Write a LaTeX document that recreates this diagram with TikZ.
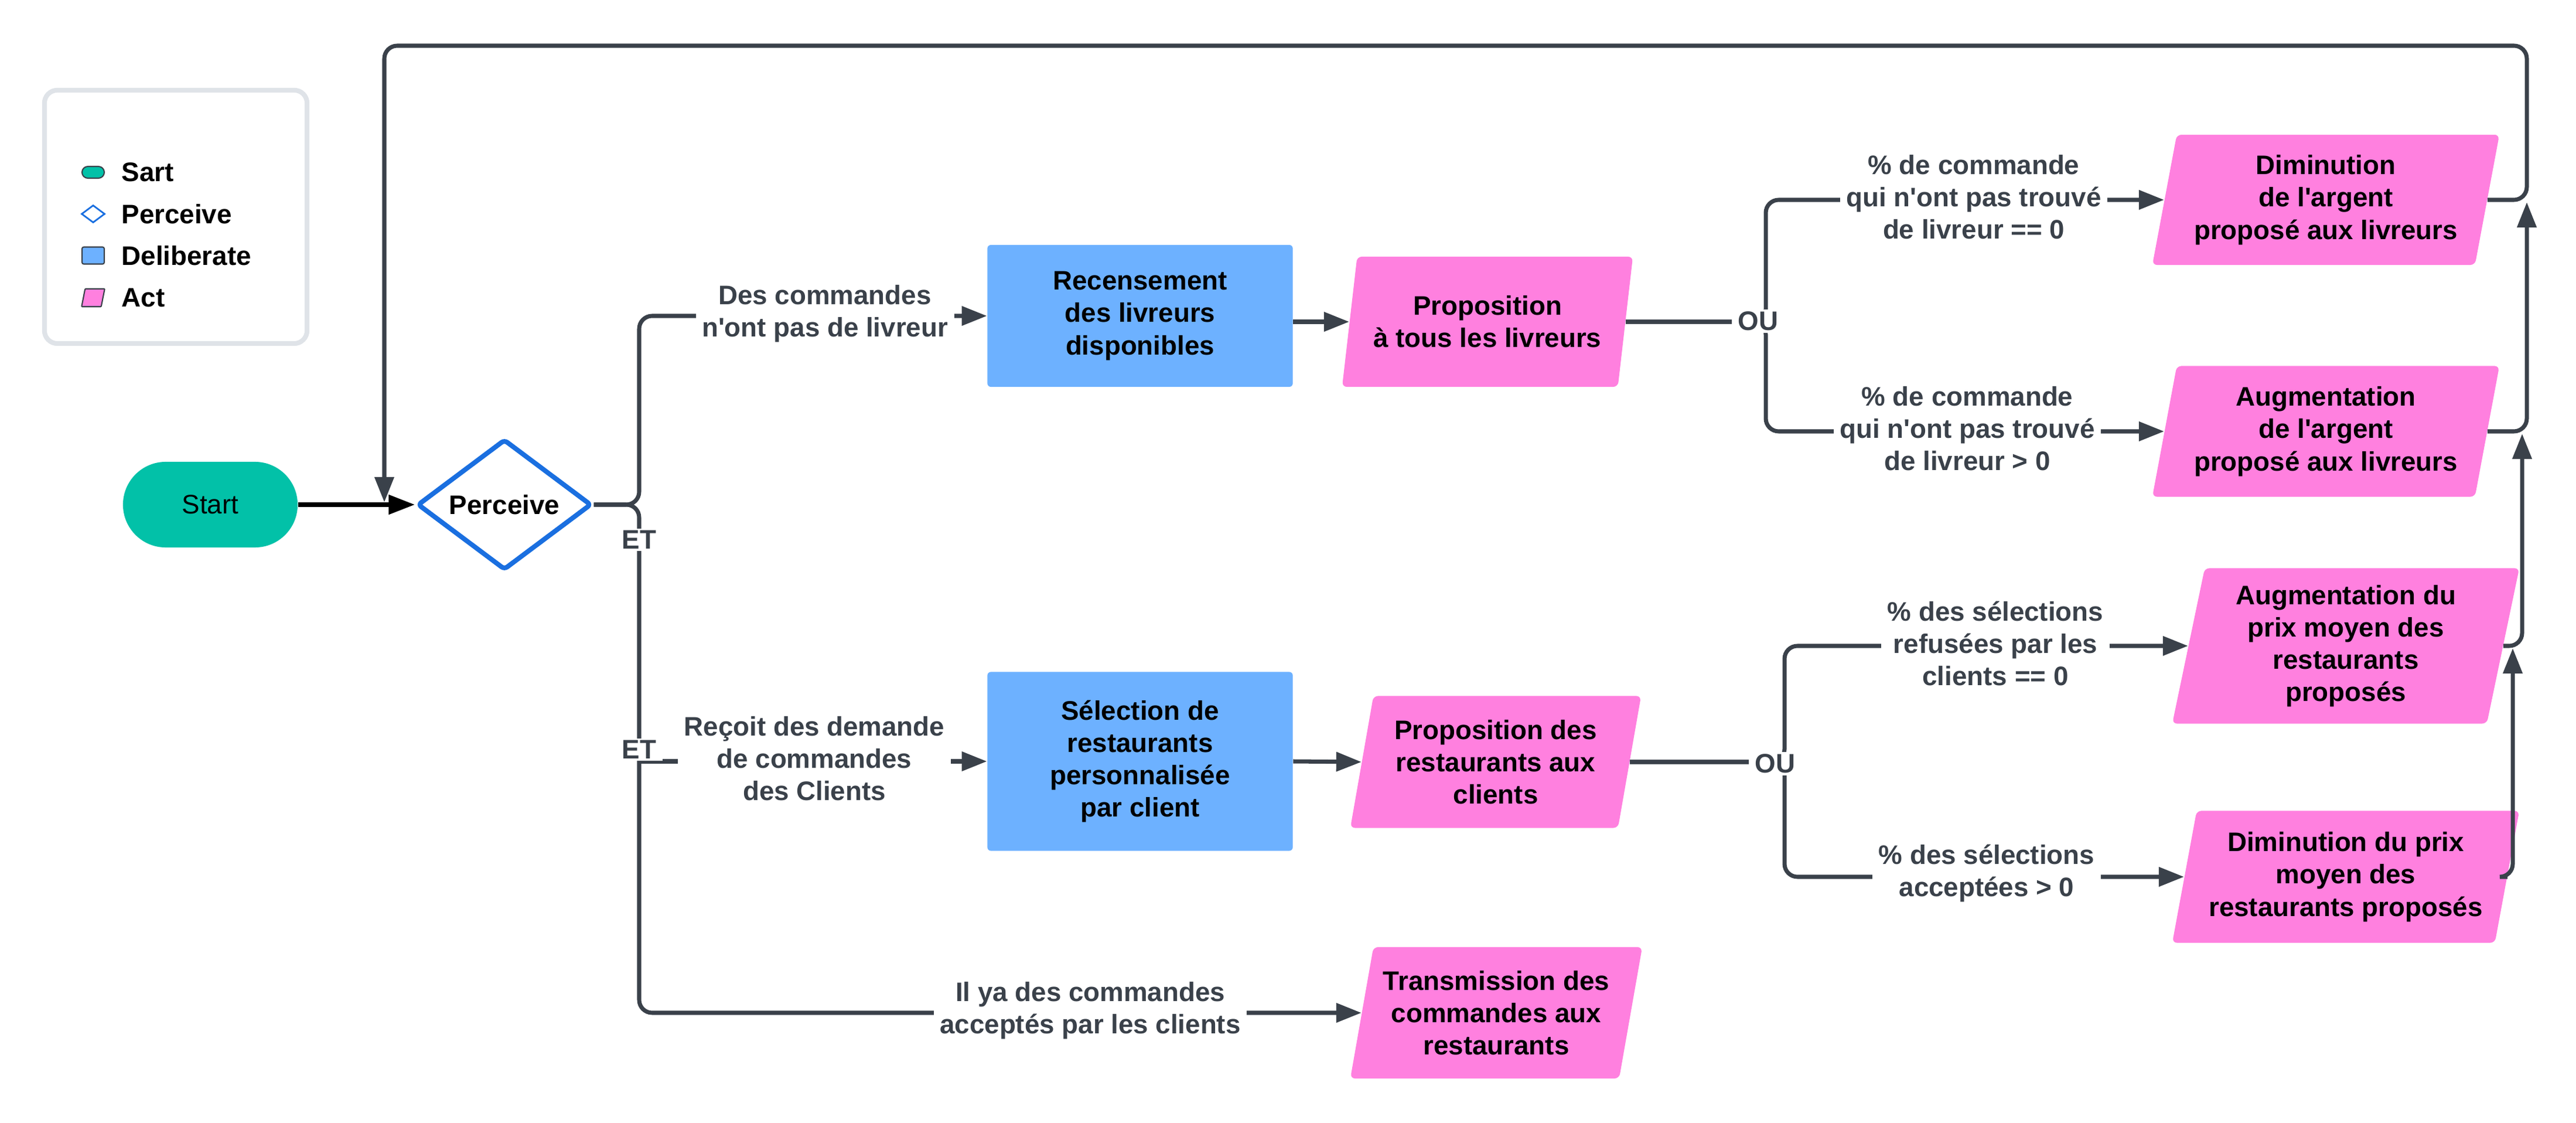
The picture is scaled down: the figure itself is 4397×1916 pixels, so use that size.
\documentclass[tikz,border=0pt]{standalone}
\usepackage{fontspec}
\setmainfont{Liberation Sans}
\usetikzlibrary{shapes.geometric,arrows.meta}
\definecolor{lineg}{HTML}{3A414A}
\definecolor{tealb}{HTML}{02C1A8}
\definecolor{blueb}{HTML}{6DB1FF}
\definecolor{pinkb}{HTML}{FF80DF}
\definecolor{pblue}{HTML}{1A6FE0}
\definecolor{legb}{HTML}{DFE3E8}
\newcommand{\apos}{\textquotesingle}
\begin{document}
\begin{tikzpicture}[x=0.01cm,y=-0.01cm,
  every node/.style={font=\fontsize{13pt}{15.7pt}\selectfont\bfseries, align=center},
  conn/.style={draw=lineg, line width=2pt, rounded corners=0.22cm, -{Triangle[length=0.43cm,width=0.32cm]}},
  lbl/.style={fill=white, text=lineg, inner xsep=3pt, inner ysep=1pt},
  delib/.style={rectangle, fill=blueb, rounded corners=0.06cm, minimum width=5.21cm, inner sep=2pt},
  actbox/.style={trapezium, trapezium left angle=76, trapezium right angle=104, trapezium stretches body=true, fill=pinkb, rounded corners=0.08cm, inner xsep=0pt, inner ysep=2pt},
  legtxt/.style={anchor=west, inner sep=0pt},
]
\useasboundingbox (0,0) rectangle (4397,1916);

% legend
\node[draw=legb, line width=2.3pt, rounded corners=0.22cm, minimum width=4.48cm, minimum height=4.32cm] (leg) at (300,370) {};
\node[fill=tealb, draw=lineg, line width=0.6pt, rounded corners=0.1cm, minimum width=0.38cm, minimum height=0.2cm, inner sep=0pt] (li1) at (159,294) {};
\node[diamond, draw=pblue, line width=0.8pt, minimum width=0.4cm, minimum height=0.3cm, aspect=1.3, inner sep=0pt] (li2) at (159,365) {};
\node[fill=blueb, draw=lineg, line width=0.6pt, rounded corners=0.03cm, minimum width=0.38cm, minimum height=0.29cm, inner sep=0pt] (li3) at (159,436) {};
\node[minimum width=0.38cm, minimum height=0.29cm, inner sep=0pt] (li4) at (159,508) {};
\draw[fill=pinkb, draw=lineg, line width=0.6pt, rounded corners=0.01cm] ([xshift=0.06cm]li4.north west) -- (li4.north east) -- ([xshift=-0.06cm]li4.south east) -- (li4.south west) -- cycle;
\node[legtxt] (lt1) at (207,294) {Sart};
\node[legtxt] (lt2) at (207,365) {Perceive};
\node[legtxt] (lt3) at (207,436) {Deliberate};
\node[legtxt] (lt4) at (207,508) {Act};

% main nodes
\node[fill=tealb, rounded corners=0.73cm, minimum width=2.98cm, minimum height=1.46cm, font=\fontsize{13pt}{15.7pt}\selectfont] (St) at (359,861) {Start};
\node[diamond, draw=pblue, line width=2.3pt, fill=white, minimum width=2.97cm, minimum height=2.23cm, inner sep=0pt, rounded corners=0.06cm] (Pc) at (861,861) {Perceive};

\node[delib, minimum height=2.42cm] (R) at (1946,539) {Recensement\\des livreurs\\disponibles};
\node[delib, minimum height=3.05cm] (S) at (1946,1299) {Sélection de\\restaurants\\personnalisée\\par client};

\node[actbox, minimum width=4.96cm, minimum height=2.22cm] (P1) at (2539,549) {Proposition\\à tous les livreurs};
\node[actbox, minimum width=4.96cm, minimum height=2.25cm] (P2) at (2553,1300) {Proposition des\\restaurants aux\\clients};
\node[actbox, minimum width=4.98cm, minimum height=2.24cm] (T) at (2554,1728) {Transmission des\\commandes aux\\restaurants};

\node[actbox, minimum width=5.92cm, minimum height=2.22cm] (A1) at (3970,341) {Diminution\\de l\apos{}argent\\proposé aux livreurs};
\node[actbox, minimum width=5.92cm, minimum height=2.23cm] (A2) at (3970,736) {Augmentation\\de l\apos{}argent\\proposé aux livreurs};
\node[actbox, minimum width=5.92cm, minimum height=2.65cm] (B1) at (4004,1102) {Augmentation du\\prix moyen des\\restaurants\\proposés};
\node[actbox, minimum width=5.92cm, minimum height=2.25cm] (B2) at (4004,1496) {Diminution du prix\\moyen des\\restaurants proposés};

% coordinates
\coordinate (J) at (1091,861);
\coordinate (J2) at (1091,1299);
\coordinate (K1) at (3014,549);
\coordinate (K2) at (3046,1300);
\coordinate (c1) at (4313,78);
\coordinate (lp) at (656,857);
\coordinate (r1) at (4313,345);
\coordinate (r2) at (4305,740);
\coordinate (r3) at (4289,1106);

% connectors
\draw[line width=2.3pt, -{Triangle[length=0.45cm,width=0.32cm]}] (St.east) -- (Pc.west);
\draw[conn] (A1.east) -| (c1) -| (lp);
\draw[conn] (A2.east) -| (r1);
\draw[conn] (B1.east) -| (r2);
\draw[conn] (B2.east) -| (r3);

\draw[conn] (Pc.east) -- (J) |- (R.west);
\draw[conn] (Pc.east) -- (J) |- (T.west);
\draw[conn] (J2) -- (S.west);
\draw[conn] (R.east |- P1.west) -- (P1.west);
\draw[conn] (S.east) -- (P2.west);

\draw[conn] (P1.east) -- (K1) |- (A1.west);
\draw[conn] (P1.east) -- (K1) |- (A2.west);
\draw[conn] (P2.east) -- (K2) |- (B1.west);
\draw[conn] (P2.east) -- (K2) |- (B2.west);

% labels
\node[lbl] (l1) at (1408,535) {Des commandes\\n\apos{}ont pas de livreur};
\node[lbl] (et1) at (1091,921) {ET};
\node[lbl] (et2) at (1091,1279) {ET};
\node[lbl] (l2) at (1390,1294) {Reçoit des demande\\de commandes\\des Clients};
\node[lbl] (l3) at (1861,1724) {Il ya des commandes\\acceptés par les clients};
\node[lbl] (ou1) at (3001,548) {OU};
\node[lbl] (ou2) at (3030,1303) {OU};
\node[lbl] (l4) at (3369,336) {\% de commande\\qui n\apos{}ont pas trouvé\\de livreur == 0};
\node[lbl] (l5) at (3358,731) {\% de commande\\qui n\apos{}ont pas trouvé\\de livreur > 0};
\node[lbl] (l6) at (3406,1098) {\% des sélections\\refusées par les\\clients == 0};
\node[lbl] (l7) at (3391,1490) {\% des sélections\\acceptées > 0};
\end{tikzpicture}
\end{document}
